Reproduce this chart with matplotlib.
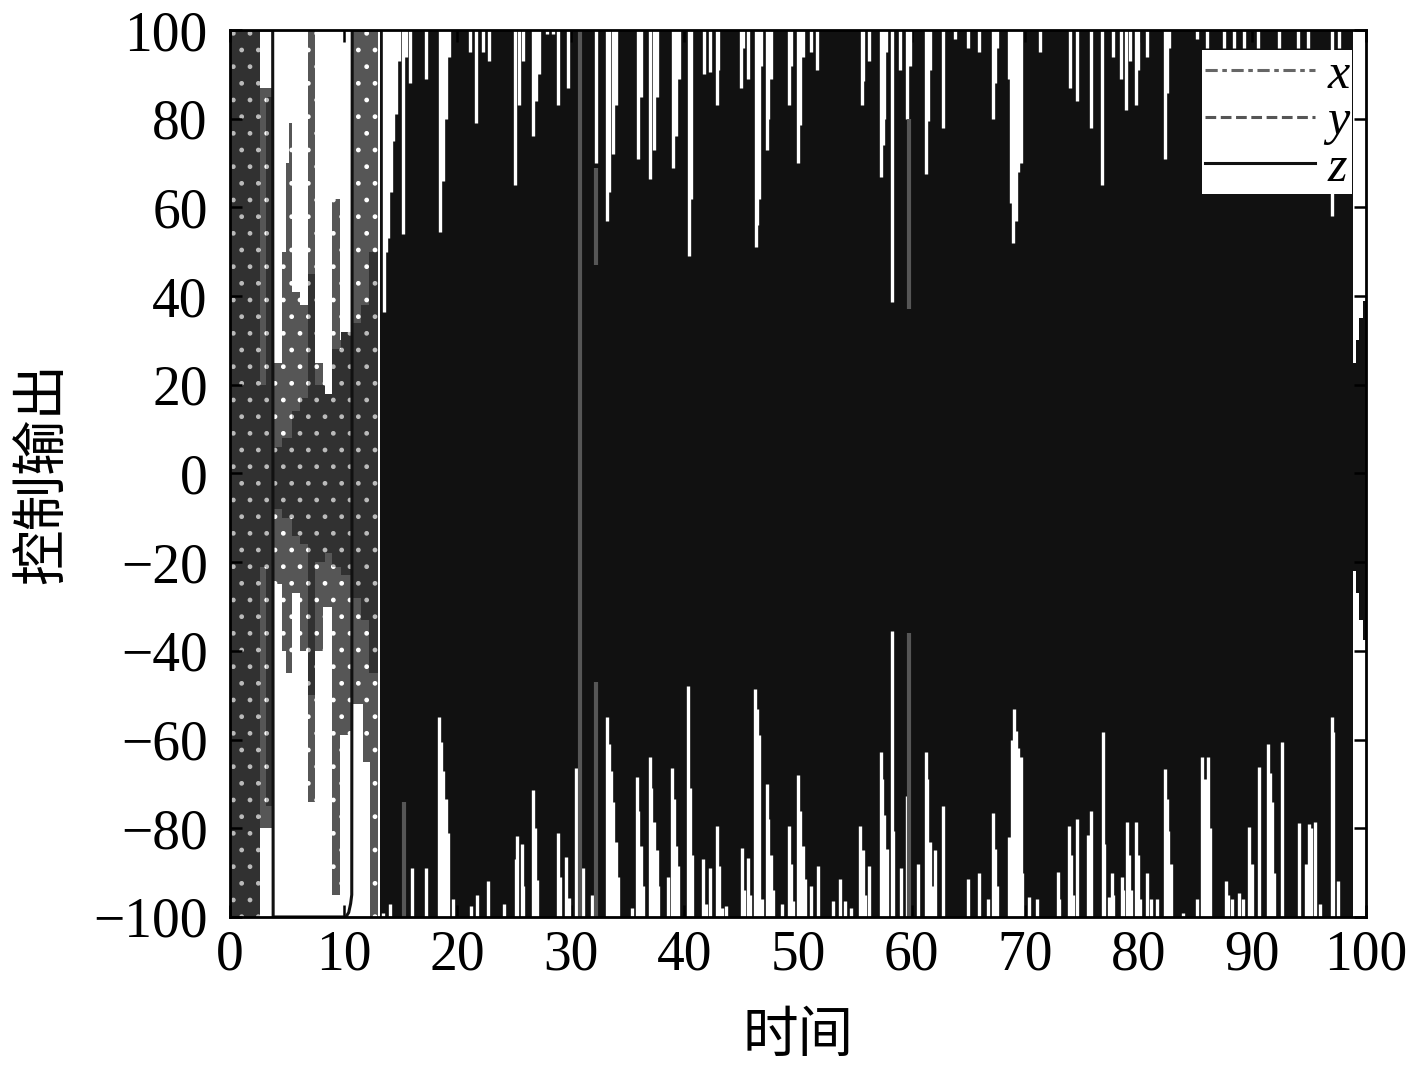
import numpy as np
import matplotlib
matplotlib.use("Agg")
from matplotlib import pyplot as plt
from matplotlib.lines import Line2D

plt.rcParams['font.family'] = ['Liberation Serif', 'Noto Sans CJK SC', 'DejaVu Sans']
plt.rcParams['hatch.linewidth'] = 1.0

# ---- data ----
# x: envelope of the early transient (step-wise), t, upper, lower
x_t  = [2.6, 3.75, 3.85, 4.6, 4.9, 5.2, 5.5, 6.2, 6.9, 7.5, 8.2, 9.0, 9.7, 10.7, 11.7, 12.3, 13.05]
x_hi = [87, 0, 25, 50, 70, 79, 41, 38, 100, 25, 18, 62, 30, 100, 100, 100, 100]
x_lo = [-80, 0, -25, -40, -45, -45, -27, -40, -74, -40, -30, -95, -59, -52, -65, -100, -100]

# y: envelope of the early transient
y_t  = [0, 2.6, 3.2, 3.75, 4.6, 5.5, 6.2, 6.9, 7.5, 8.4, 9.0, 9.8, 10.7, 11.5, 12.2, 13.05]
y_hi = [100, 20, 85, 6, 8, 14, 17, 45, 20, 18, 28, 32, 34, 38, 50, 50]
y_lo = [-100, -21, -75, -8, -10, -14, -16, -50, -20, -18, -21, -23, -28, -33, -45, -45]

# x: segments visible across the dense z band (t, low, high)
x_seg_t  = [15.3, 30.8, 32.2, 32.2, 59.75, 59.75]
x_seg_lo = [-100, -100, -100, 47, 37, -100]
x_seg_hi = [-74, 100, -47, 69, 80, -36]

# z: early path (saturated at the limits)
z_line_t = [0, 3.76, 3.80, 10.2, 10.45, 10.62, 10.72, 10.76, 13.2]
z_line_v = [100, 100, -100, -100, -99, -97, -95, 100, 100]

# z: dense oscillation envelope
z_env_t  = [13.2, 98.85, 99.1, 99.4, 99.7, 100]
z_env_hi = [100, 25, 30, 35, 39, 39]
z_env_lo = [-100, -22, -27, -33, -37.5, -37.5]

# z: peaks that do not reach the upper limit (t, value)
z_top = [
    (13.55, 36.5), (13.7, 50), (13.93, 53), (14.14, 63.5), (14.37, 75), (14.6, 81),
    (14.9, 93), (15.25, 54), (15.5, 94), (15.84, 88), (17.25, 89),
    (18.48, 54.5), (18.72, 66), (19.0, 80), (19.3, 94),
    (21.1, 95), (21.7, 79), (22.3, 95), (22.8, 93),
    (25.1, 65), (25.4, 83), (25.76, 93),
    (26.7, 76), (26.9, 84), (27.2, 90),
    (27.93, 99), (28.45, 99), (28.9, 83), (29.78, 87),
    (32.2, 70),
    (33.15, 57), (33.4, 63.5), (33.68, 72), (33.97, 83),
    (35.88, 71), (36.15, 85),
    (37.0, 66.5), (37.3, 73), (37.6, 85),
    (38.96, 69), (39.26, 76), (39.5, 89),
    (40.45, 49), (40.6, 62),
    (41.7, 90), (42.25, 90.6), (42.9, 83), (43.0, 91),
    (45.0, 87), (45.2, 96), (45.6, 89),
    (46.27, 51), (46.42, 56), (46.6, 62), (46.75, 92),
    (47.24, 73), (47.4, 80), (47.6, 89),
    (49.2, 83), (49.35, 92),
    (50.03, 70), (50.17, 78.6), (50.4, 94),
    (51.14, 95), (51.7, 91),
    (55.6, 83), (55.75, 88.5), (56.28, 93),
    (57.3, 66.8), (57.45, 74), (57.6, 80), (57.75, 95),
    (58.25, 38.7), (58.98, 91),
    (59.6, 80), (59.9, 92),
    (61.27, 67.6), (61.47, 79.6), (61.6, 91),
    (62.8, 78), (63.8, 98), (64.93, 96), (65.96, 95),
    (67.13, 80), (67.34, 88), (67.5, 96),
    (68.55, 89), (68.75, 61), (68.95, 52), (69.15, 57), (69.4, 68), (69.6, 70),
    (71.3, 95), (73.94, 87), (74.6, 84), (75.8, 78), (76.8, 65),
    (77.7, 94), (78.4, 89), (78.9, 82), (79.2, 93), (79.75, 83), (79.96, 91), (80.7, 94),
    (82.3, 71), (82.5, 85.7), (82.7, 96),
    (85.1, 98), (86.0, 96), (87.5, 96), (88.4, 96), (89.3, 96), (90.5, 96),
    (92.3, 96), (94.0, 96), (94.9, 96), (97.0, 58), (97.6, 96),
]

# z: troughs that do not reach the lower limit (t, value)
z_bot = [
    (13.5, -99), (14.08, -97), (15.99, -89), (17.25, -89),
    (18.42, -55), (18.57, -60.5), (18.78, -67), (18.98, -73.5), (19.19, -81),
    (19.6, -96), (21.18, -97.6), (21.71, -95), (22.74, -92), (24.1, -97),
    (25.14, -87), (25.3, -81.7), (25.67, -83.5), (25.8, -93),
    (26.7, -71.4), (26.85, -80), (27.05, -91.7),
    (28.9, -81), (29.05, -91), (29.6, -86.5), (29.8, -95.8),
    (30.5, -66.5), (30.66, -72), (31.1, -89), (31.83, -95),
    (33.18, -55), (33.33, -61), (33.5, -67), (33.74, -74), (33.98, -83), (34.15, -91),
    (35.4, -98),
    (35.8, -68.5), (35.94, -76), (36.15, -84), (36.38, -93),
    (36.97, -64), (37.1, -71), (37.35, -78.6), (37.55, -85), (37.7, -93),
    (38.6, -91), (38.93, -66.5), (39.1, -73.5), (39.25, -84), (39.4, -88.6),
    (40.34, -48), (40.5, -71), (40.7, -86),
    (41.66, -87), (41.9, -97), (42.25, -89),
    (42.9, -79.6), (43.07, -88.5), (43.28, -98), (43.66, -97.5),
    (45.04, -84.5), (45.24, -94), (45.6, -86.6), (45.77, -95),
    (46.21, -48.6), (46.42, -53), (46.6, -59), (46.8, -96),
    (47.24, -70), (47.39, -78), (47.6, -86), (47.77, -94),
    (48.56, -97),
    (49.17, -79.5), (49.35, -88), (49.53, -96.5),
    (50.0, -68), (50.17, -76), (50.4, -84), (50.6, -91.5),
    (51.14, -93), (51.73, -88.6), (53.1, -96.5), (53.7, -91.5), (54.1, -96.5), (54.7, -98),
    (55.5, -79.6), (55.7, -85), (55.9, -95), (56.28, -88.6),
    (57.27, -62.7), (57.4, -69), (57.6, -77), (57.8, -84.7),
    (58.25, -35.6), (58.4, -80.6), (59.05, -89), (59.6, -72.7), (60.6, -88),
    (61.26, -62.7), (61.4, -69), (61.6, -83), (61.85, -93), (62.05, -85),
    (62.8, -75), (64.93, -91.5), (65.96, -90), (66.75, -96),
    (67.13, -76.6), (67.34, -84.7), (67.55, -93),
    (68.6, -82), (68.8, -60), (69.0, -53), (69.2, -58), (69.4, -62), (69.6, -64), (69.75, -90),
    (70.3, -95.6), (71.0, -96),
    (72.86, -89.8), (73.0, -96),
    (73.85, -79.4), (74.0, -86), (74.18, -95), (74.6, -78),
    (75.55, -81.6), (75.8, -76),
    (76.82, -58.4), (76.96, -83.6),
    (77.4, -95.6), (77.6, -90), (77.76, -95),
    (78.5, -91), (78.64, -94),
    (78.93, -78.6), (79.1, -86), (79.3, -94),
    (79.75, -78.6), (79.9, -86), (80.1, -96),
    (80.7, -90), (81.1, -96), (81.57, -96),
    (82.3, -66.6), (82.45, -73.3), (82.6, -80.6), (82.8, -88),
    (83.9, -99), (85.1, -96),
    (85.6, -64), (85.83, -69), (86.05, -64), (86.25, -80),
    (87.67, -92), (87.82, -95), (88.23, -96), (88.8, -94.5), (89.2, -96),
    (89.73, -79.7), (89.93, -88), (90.6, -66.2),
    (91.34, -61), (91.55, -67.5), (91.7, -74), (91.9, -90),
    (92.57, -60.5), (94.13, -78.8), (94.7, -88), (94.95, -79),
    (95.2, -80), (95.5, -78.5), (95.95, -97),
    (96.98, -54.8), (97.12, -58.4), (97.56, -92),
]

labels = ['x', 'y', 'z']
xticks = [0, 10, 20, 30, 40, 50, 60, 70, 80, 90, 100]
yticks = [-100, -80, -60, -40, -20, 0, 20, 40, 60, 80, 100]

# ---- plot ----
c_x, c_y, c_z = '#565656', '#313131', '#111111'

fig = plt.figure(figsize=(14.17, 10.65), dpi=100)
ax = fig.add_axes([0.1623, 0.139, 0.8017, 0.8328])

ax.fill_between(x_t, x_lo, x_hi, step='post', facecolor=c_x, edgecolor='white',
                hatch='.', linewidth=0)
ax.fill_between(y_t, y_lo, y_hi, step='post', facecolor=c_y, edgecolor='#bbbbbb',
                hatch='.', linewidth=0)

ax.plot(z_line_t, z_line_v, color=c_z, lw=2.2)
ax.fill_between(z_env_t, z_env_lo, z_env_hi, step='post', color=c_z, linewidth=0)

top_t, top_v = zip(*z_top)
bot_t, bot_v = zip(*z_bot)
ax.vlines(top_t, top_v, 101, colors='white', linewidth=2.4)
ax.vlines(bot_t, -101, bot_v, colors='white', linewidth=2.4)
ax.vlines(x_seg_t, x_seg_lo, x_seg_hi, colors=c_x, linewidth=3)

ax.set_xlim(0, 100)
ax.set_ylim(-100, 100)
ax.set_xticks(xticks)
ax.set_yticks(yticks)
ax.tick_params(direction='in', length=8.5, width=1.8, top=True, right=True,
               labelsize=40)
ax.tick_params(axis='x', pad=9)
ax.tick_params(axis='y', pad=16)
for s in ax.spines.values():
    s.set_linewidth(2)

ax.set_xlabel('时间', fontsize=40, labelpad=22)
ax.set_ylabel('控制输出', fontsize=40, labelpad=16)

handles = [Line2D([], [], color='#666666', lw=2.2, linestyle=(0, (4, 1.5, 1.5, 1.5))),
           Line2D([], [], color='#555555', lw=2.2, linestyle=(0, (3.5, 1.5))),
           Line2D([], [], color='#111111', lw=2.2)]
leg = ax.legend(handles, labels, loc='upper right', bbox_to_anchor=(0.9877, 0.9775),
                borderaxespad=0, frameon=True, fancybox=False, framealpha=1,
                prop={'family': 'Liberation Serif', 'style': 'italic', 'size': 36},
                handlelength=2.2, handletextpad=0.25, labelspacing=0.0,
                borderpad=0.05)
leg.get_frame().set_edgecolor('none')
leg.get_frame().set_facecolor('white')

fig.savefig('out.png', dpi=100)
